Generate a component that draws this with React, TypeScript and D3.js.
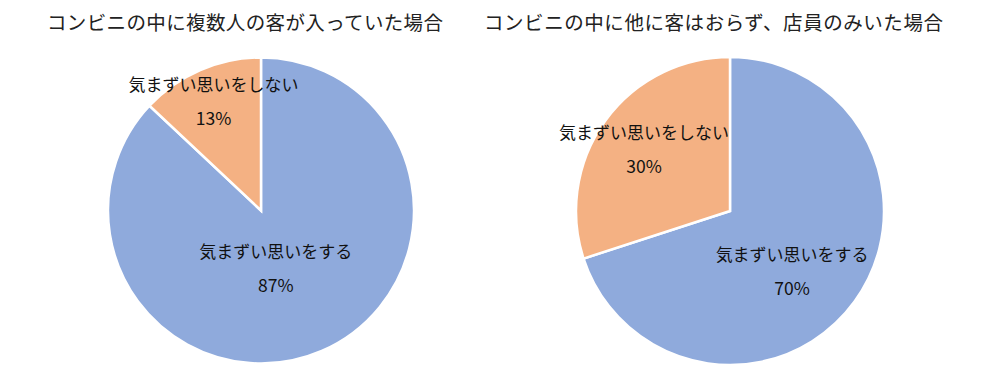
import React from "react";
import * as d3 from "d3";

const categories = ["気まずい思いをする", "気まずい思いをしない"];
const titles = [
  "コンビニの中に複数人の客が入っていた場合",
  "コンビニの中に他に客はおらず、店員のみいた場合",
];
const valuesCrowded = [87, 13];
const valuesStaffOnly = [70, 30];

const colors = ["#8FAADC", "#F4B183"];
const W = 986;
const H = 382;

const charts = [
  { title: titles[0], values: valuesCrowded, cx: 261, cy: 210.5, r: 153, titleX: 245, titleW: 396, labelR: [0.39, 0.78], labelA: [0.46, null] },
  { title: titles[1], values: valuesStaffOnly, cx: 730, cy: 211, r: 154, titleX: 713.5, titleW: 459, labelR: [0.56, 0.69], labelA: [0.372, null] },
];

const font = "'Noto Sans CJK JP', 'Noto Sans', sans-serif";

export default function App() {
  return (
    <svg width={W} height={H} style={{ position: "absolute", left: 0, top: 0, background: "#fff" }}>
      <rect width={W} height={H} fill="#fff" />
      {charts.map((c, ci) => {
        const pie = d3.pie<number>().sort(null).value((d) => d);
        const arcs = pie(c.values);
        const arc = d3.arc<d3.PieArcDatum<number>>().innerRadius(0).outerRadius(c.r);
        const total = d3.sum(c.values);
        return (
          <g key={ci}>
            <text x={c.titleX} y={30} textAnchor="middle" fontFamily={font} fontSize={19.5} fill="#222" textLength={c.titleW} lengthAdjust="spacing">
              {c.title}
            </text>
            <g transform={`translate(${c.cx},${c.cy})`}>
              {arcs.map((a, i) => (
                <path key={i} d={arc(a) || ""} fill={colors[i]} stroke="#fff" strokeWidth={2.5} />
              ))}
              {arcs.map((a, i) => {
                const ang = c.labelA[i] != null ? (c.labelA[i] as number) * 2 * Math.PI : (a.startAngle + a.endAngle) / 2;
                const lr = c.r * c.labelR[i];
                const x = Math.sin(ang) * lr;
                const y = -Math.cos(ang) * lr;
                const pct = Math.round((c.values[i] / total) * 100);
                return (
                  <g key={"l" + i} fontFamily={font} fill="#111" textAnchor="middle">
                    <text x={x} y={y - 10} fontSize={17}>
                      {categories[i]}
                    </text>
                    <text x={x} y={y + 24} fontSize={17.5}>
                      {pct}%
                    </text>
                  </g>
                );
              })}
            </g>
          </g>
        );
      })}
    </svg>
  );
}
